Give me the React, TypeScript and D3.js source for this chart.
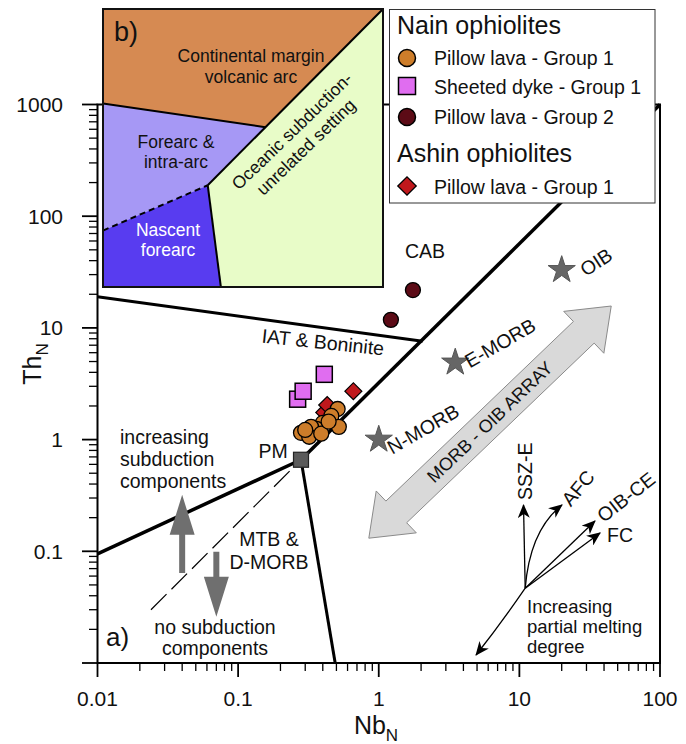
import React from "react";
import * as d3 from "d3";

const FONT = "'Liberation Sans', Arial, sans-serif";

// Nb_N , Th_N  (N-MORB normalised)
const nainPillowG1 = [
  [0.51, 1.88], [0.46, 1.63], [0.52, 1.3], [0.4, 1.41], [0.36, 1.25], [0.33, 1.3],
  [0.28, 1.15], [0.32, 1.06], [0.39, 1.13], [0.3, 1.22], [0.44, 1.45],
];
const nainDykeG1 = [[0.265, 2.3], [0.29, 2.71], [0.41, 3.84]];
const nainPillowG2 = [[1.22, 11.8], [1.75, 21.8]];
const ashinPillowG1 = [[0.41, 1.75], [0.43, 2.04], [0.66, 2.71]];

const refNames = ["N-MORB", "E-MORB", "OIB"];
const refNb = [1, 3.5, 20];
const refTh = [1, 4.9, 33];
const pmPoint = [0.28, 0.66];

const ticksX = [0.01, 0.1, 1, 10, 100];
const ticksY = [0.01, 0.1, 1, 10, 100, 1000];
const tickLabelsX = ["0.01", "0.1", "1", "10", "100"];
const tickLabelsY = ["", "0.1", "1", "10", "100", "1000"];

// field boundaries (Nb_N, Th_N)
const arrayUpper = [pmPoint, [100, 1000]];
const arrayLower = [[0.024, 0.03], pmPoint];
const subductionLine = [[0.01, 0.095], pmPoint];
const meltingLine = [pmPoint, [0.49, 0.01]];
const iatCabLine = [[0.01, 19], [2.05, 7.6]];

// MORB-OIB array arrow ends
const arrayArrow = [[0.85, 0.131], [45, 15.7]];
// subduction arrows (from, to)
const upArrow = [[0.04, 0.064], [0.04, 0.32]];
const downArrow = [[0.07, 0.099], [0.07, 0.026]];

// vector origin and trend tips
const vecOrigin = [11, 0.0467];
const vecSSZ = [10.7, 0.26];
const vecAFC = [20.1, 0.26];
const vecAFCbend = [11.9, 0.155];
const vecOIBCE = [34.5, 0.187];
const vecFC = [37.5, 0.146];
const vecMelt = [4.92, 0.0118];
const vecMeltBend = [7.3, 0.022];

// inset b) fields, unit square of the inset box
const insetContinental = [[0, 0], [1, 0], [0.58, 0.425], [0, 0.34]];
const insetForearc = [[0, 0.34], [0.58, 0.425], [0.374, 0.634], [0, 0.797]];
const insetNascent = [[0, 0.797], [0.374, 0.634], [0.421, 1], [0, 1]];
const insetOceanic = [[1, 0], [1, 1], [0.421, 1], [0.374, 0.634]];

export default function App() {
  const x = d3.scaleLog().domain([0.01, 100]).range([97.5, 660]);
  const y = d3.scaleLog().domain([0.01, 1000]).range([663, 104.5]);
  const line = d3.line<number[]>().x((d) => x(d[0])).y((d) => y(d[1]));
  const ix = d3.scaleLinear().domain([0, 1]).range([103, 383]);
  const iy = d3.scaleLinear().domain([0, 1]).range([9, 287]);
  const iline = d3.line<number[]>().x((d) => ix(d[0])).y((d) => iy(d[1]));
  const ipoly = (p: number[][]) => iline(p) + "Z";

  const minorX: number[] = [];
  const minorY: number[] = [];
  for (let e = -2; e < 3; e++) {
    for (let k = 2; k < 10; k++) {
      const v = k * Math.pow(10, e);
      if (v < 100) minorX.push(v);
      if (v < 1000) minorY.push(v);
    }
  }

  // big double arrow
  const p0 = [x(arrayArrow[0][0]), y(arrayArrow[0][1])];
  const p1 = [x(arrayArrow[1][0]), y(arrayArrow[1][1])];
  const len = Math.hypot(p1[0] - p0[0], p1[1] - p0[1]);
  const u = [(p1[0] - p0[0]) / len, (p1[1] - p0[1]) / len];
  const n = [-u[1], u[0]];
  const hl = 38, hw = 29, sw = 15;
  const pt = (b: number[], a: number, c: number) => [b[0] + u[0] * a + n[0] * c, b[1] + u[1] * a + n[1] * c];
  const bigArrow = [
    p0, pt(p0, hl, hw), pt(p0, hl, sw), pt(p1, -hl, sw), pt(p1, -hl, hw), p1,
    pt(p1, -hl, -hw), pt(p1, -hl, -sw), pt(p0, hl, -sw), pt(p0, hl, -hw),
  ];
  const ang = (Math.atan2(u[1], u[0]) * 180) / Math.PI;
  const mid = [(p0[0] + p1[0]) / 2, (p0[1] + p1[1]) / 2];

  const greyArrow = (a: number[][], key: string) => {
    const xs = x(a[0][0]);
    const y0 = y(a[0][1]);
    const y1 = y(a[1][1]);
    const dir = y1 < y0 ? -1 : 1;
    const head = 40;
    const yb = y1 - dir * head;
    const pts = [
      [xs - 3, y0], [xs - 3, yb], [xs - 12.5, yb], [xs, y1], [xs + 12.5, yb], [xs + 3, yb], [xs + 3, y0],
    ];
    return <path key={key} d={"M" + pts.map((p) => p.join(",")).join("L") + "Z"} fill="#6f6f6f" />;
  };

  const P = (v: number[]) => `${x(v[0])},${y(v[1])}`;
  const star = d3.symbol().type(d3.symbolStar).size(230)() as string;

  const txt = { fontFamily: FONT, fill: "#111" } as React.CSSProperties;

  return (
    <svg width={686} height={744} style={{ position: "absolute", left: 0, top: 0, background: "#fff" }}>
      <defs>
        <marker id="ah" viewBox="0 0 14 12" refX="13" refY="6" markerWidth="14" markerHeight="12"
          orient="auto" markerUnits="userSpaceOnUse">
          <path d="M0,0 L14,6 L0,12 L4,6 Z" fill="#000" />
        </marker>
      </defs>

      {/* frame */}
      <rect x={x(0.01)} y={y(1000)} width={x(100) - x(0.01)} height={y(0.01) - y(1000)}
        fill="none" stroke="#000" strokeWidth={2} />

      {/* ticks */}
      {ticksX.map((t, i) => (
        <g key={"tx" + i}>
          <line x1={x(t)} x2={x(t)} y1={663} y2={677} stroke="#000" strokeWidth={1.8} />
          <text x={x(t)} y={706} textAnchor="middle" fontSize={21} style={txt}>{tickLabelsX[i]}</text>
        </g>
      ))}
      {minorX.map((t, i) => (
        <line key={"mx" + i} x1={x(t)} x2={x(t)} y1={663} y2={671} stroke="#000" strokeWidth={1.3} />
      ))}
      {ticksY.map((t, i) => (
        <g key={"ty" + i}>
          <line x1={82} x2={97.5} y1={y(t)} y2={y(t)} stroke="#000" strokeWidth={1.8} />
          {tickLabelsY[i] && (
            <text x={63} y={y(t)} textAnchor="end" dominantBaseline="central" fontSize={21} style={txt}>{tickLabelsY[i]}</text>
          )}
        </g>
      ))}
      {minorY.map((t, i) => (
        <line key={"my" + i} x1={89} x2={97.5} y1={y(t)} y2={y(t)} stroke="#000" strokeWidth={1.3} />
      ))}

      <text x={376} y={734} textAnchor="middle" fontSize={25} style={txt}>
        Nb<tspan dy={7} fontSize={17}>N</tspan>
      </text>
      <text transform="translate(41,364) rotate(-90)" textAnchor="middle" fontSize={25} style={txt}>
        Th<tspan dy={7} fontSize={17}>N</tspan>
      </text>

      {/* field boundaries */}
      <path d={line(arrayUpper) as string} stroke="#000" strokeWidth={3.5} fill="none" />
      <path d={line(subductionLine) as string} stroke="#000" strokeWidth={3.5} fill="none" />
      <path d={line(meltingLine) as string} stroke="#000" strokeWidth={3} fill="none" />
      <path d={line(iatCabLine) as string} stroke="#000" strokeWidth={3} fill="none" />
      <path d={line(arrayLower) as string} stroke="#000" strokeWidth={1.2} strokeDasharray="22 7" fill="none" />

      {/* subduction arrows */}
      {greyArrow(upArrow, "up")}
      {greyArrow(downArrow, "down")}

      {/* MORB-OIB array arrow */}
      <path d={"M" + bigArrow.map((p) => p.join(",")).join("L") + "Z"} fill="#d9d9d9" stroke="#8a8a8a" strokeWidth={1} />
      <text transform={`translate(${mid[0]},${mid[1]}) rotate(${ang})`} textAnchor="middle"
        dominantBaseline="central" fontSize={18} style={txt}>MORB - OIB ARRAY</text>

      {/* vectors */}
      <g fill="none" stroke="#000" strokeWidth={1.3}>
        <path d={`M${P(vecOrigin)}L${P(vecSSZ)}`} markerEnd="url(#ah)" />
        <path d={`M${P(vecOrigin)}Q${P(vecAFCbend)} ${P(vecAFC)}`} markerEnd="url(#ah)" />
        <path d={`M${P(vecOrigin)}L${P(vecOIBCE)}`} markerEnd="url(#ah)" />
        <path d={`M${P(vecOrigin)}L${P(vecFC)}`} markerEnd="url(#ah)" />
        <path d={`M${P(vecOrigin)}Q${P(vecMeltBend)} ${P(vecMelt)}`} markerEnd="url(#ah)" />
      </g>
      <text transform="translate(532,500) rotate(-90)" fontSize={19.5} style={txt}>SSZ-E</text>
      <text transform="translate(578,488) rotate(-50)" textAnchor="middle" dominantBaseline="central" fontSize={19.5} style={txt}>AFC</text>
      <text transform="translate(626,497) rotate(-38)" textAnchor="middle" dominantBaseline="central" fontSize={19.5} style={txt}>OIB-CE</text>
      <text x={607} y={542} fontSize={19.5} style={txt}>FC</text>
      <text x={527} y={613} fontSize={18.5} style={txt}>Increasing</text>
      <text x={527} y={633} fontSize={18.5} style={txt}>partial melting</text>
      <text x={527} y={653} fontSize={18.5} style={txt}>degree</text>

      {/* field labels */}
      <text x={425} y={258} textAnchor="middle" fontSize={19.5} style={txt}>CAB</text>
      <text transform="translate(323,342) rotate(6)" textAnchor="middle" dominantBaseline="central" fontSize={19.5} style={txt}>IAT &amp; Boninite</text>
      <text x={273} y={458} textAnchor="middle" fontSize={19.5} style={txt}>PM</text>
      <text x={120} y={444} fontSize={19.5} style={txt}>increasing</text>
      <text x={120} y={466} fontSize={19.5} style={txt}>subduction</text>
      <text x={120} y={488} fontSize={19.5} style={txt}>components</text>
      <text x={269} y={546} textAnchor="middle" fontSize={19.5} style={txt}>MTB &amp;</text>
      <text x={269} y={569} textAnchor="middle" fontSize={19.5} style={txt}>D-MORB</text>
      <text x={215} y={634} textAnchor="middle" fontSize={19.5} style={txt}>no subduction</text>
      <text x={215} y={655} textAnchor="middle" fontSize={19.5} style={txt}>components</text>
      <text x={106} y={646} fontSize={26} style={txt}>a)</text>

      {/* samples */}
      {nainDykeG1.map((d, i) => (
        <rect key={"sq" + i} x={x(d[0]) - 8} y={y(d[1]) - 8} width={16} height={16} fill="#e06df0" stroke="#000" strokeWidth={1.5} />
      ))}
      {ashinPillowG1.map((d, i) => (
        <rect key={"dm" + i} x={-6} y={-6} width={12} height={12} fill="#c0181c" stroke="#000" strokeWidth={1.2}
          transform={`translate(${x(d[0])},${y(d[1])}) rotate(45)`} />
      ))}
      {nainPillowG1.map((d, i) => (
        <circle key={"c1" + i} cx={x(d[0])} cy={y(d[1])} r={7.5} fill="#cd7d2a" stroke="#000" strokeWidth={1.3} />
      ))}
      {nainPillowG2.map((d, i) => (
        <circle key={"c2" + i} cx={x(d[0])} cy={y(d[1])} r={7.5} fill="#5c0b16" stroke="#000" strokeWidth={1.3} />
      ))}
      <rect x={x(pmPoint[0]) - 7.5} y={y(pmPoint[1]) - 7.5} width={15} height={15} fill="#5a5a5a" stroke="#222" strokeWidth={1.2} />
      {refNames.map((nm, i) => (
        <path key={"st" + i} d={star} transform={`translate(${x(refNb[i])},${y(refTh[i])})`} fill="#666" stroke="#555" strokeWidth={1} />
      ))}
      <text transform="translate(423,429) rotate(-30)" textAnchor="middle" dominantBaseline="central" fontSize={19.5} style={txt}>{refNames[0]}</text>
      <text transform="translate(500,343) rotate(-30)" textAnchor="middle" dominantBaseline="central" fontSize={19.5} style={txt}>{refNames[1]}</text>
      <text transform="translate(596,262) rotate(-33)" textAnchor="middle" dominantBaseline="central" fontSize={19.5} style={txt}>{refNames[2]}</text>

      {/* inset b) */}
      <path d={ipoly(insetContinental)} fill="#d68a52" />
      <path d={ipoly(insetForearc)} fill="#a698f5" />
      <path d={ipoly(insetNascent)} fill="#583cf0" />
      <path d={ipoly(insetOceanic)} fill="#e8fcc8" />
      <g stroke="#000" fill="none" strokeWidth={2}>
        <path d={iline([insetContinental[3], insetContinental[2]]) as string} />
        <path d={iline([insetContinental[1], insetForearc[2]]) as string} />
        <path d={iline([insetNascent[1], insetNascent[2]]) as string} />
        <path d={iline([insetNascent[0], insetNascent[1]]) as string} strokeDasharray="6 4" />
      </g>
      <rect x={ix(0)} y={iy(0)} width={ix(1) - ix(0)} height={iy(1) - iy(0)} fill="none" stroke="#111" strokeWidth={2} />
      <text x={114} y={41} fontSize={27} style={txt}>b)</text>
      <text x={251} y={62} textAnchor="middle" fontSize={17.5} style={txt}>Continental margin</text>
      <text x={251} y={83} textAnchor="middle" fontSize={17.5} style={txt}>volcanic arc</text>
      <text x={176} y={148} textAnchor="middle" fontSize={17.5} style={txt}>Forearc &amp;</text>
      <text x={176} y={168} textAnchor="middle" fontSize={17.5} style={txt}>intra-arc</text>
      <text x={168} y={236} textAnchor="middle" fontSize={17.5} style={{ ...txt, fill: "#fff" }}>Nascent</text>
      <text x={168} y={256} textAnchor="middle" fontSize={17.5} style={{ ...txt, fill: "#fff" }}>forearc</text>
      <text transform="translate(292,131) rotate(-44)" textAnchor="middle" dominantBaseline="central" fontSize={17.5} style={txt}>Oceanic subduction-</text>
      <text transform="translate(306,147) rotate(-44)" textAnchor="middle" dominantBaseline="central" fontSize={17.5} style={txt}>unrelated setting</text>

      {/* legend */}
      <rect x={389.5} y={9.5} width={265.5} height={193.5} fill="#fff" stroke="#333" strokeWidth={1} />
      <text x={397} y={34} fontSize={25} style={txt}>Nain ophiolites</text>
      <circle cx={407} cy={58} r={8.5} fill="#cd7d2a" stroke="#000" strokeWidth={1.5} />
      <text x={434} y={65} fontSize={19.5} style={txt}>Pillow lava - Group 1</text>
      <rect x={398.5} y={77.5} width={17} height={17} fill="#e06df0" stroke="#000" strokeWidth={1.5} />
      <text x={434} y={94} fontSize={19.5} style={txt}>Sheeted dyke - Group 1</text>
      <circle cx={407} cy={117} r={8.5} fill="#5c0b16" stroke="#000" strokeWidth={1.5} />
      <text x={434} y={124} fontSize={19.5} style={txt}>Pillow lava - Group 2</text>
      <text x={397} y={162} fontSize={25} style={txt}>Ashin ophiolites</text>
      <rect x={-6.5} y={-6.5} width={13} height={13} fill="#c0181c" stroke="#000" strokeWidth={1.3}
        transform="translate(407,186) rotate(45)" />
      <text x={434} y={194} fontSize={19.5} style={txt}>Pillow lava - Group 1</text>
    </svg>
  );
}
